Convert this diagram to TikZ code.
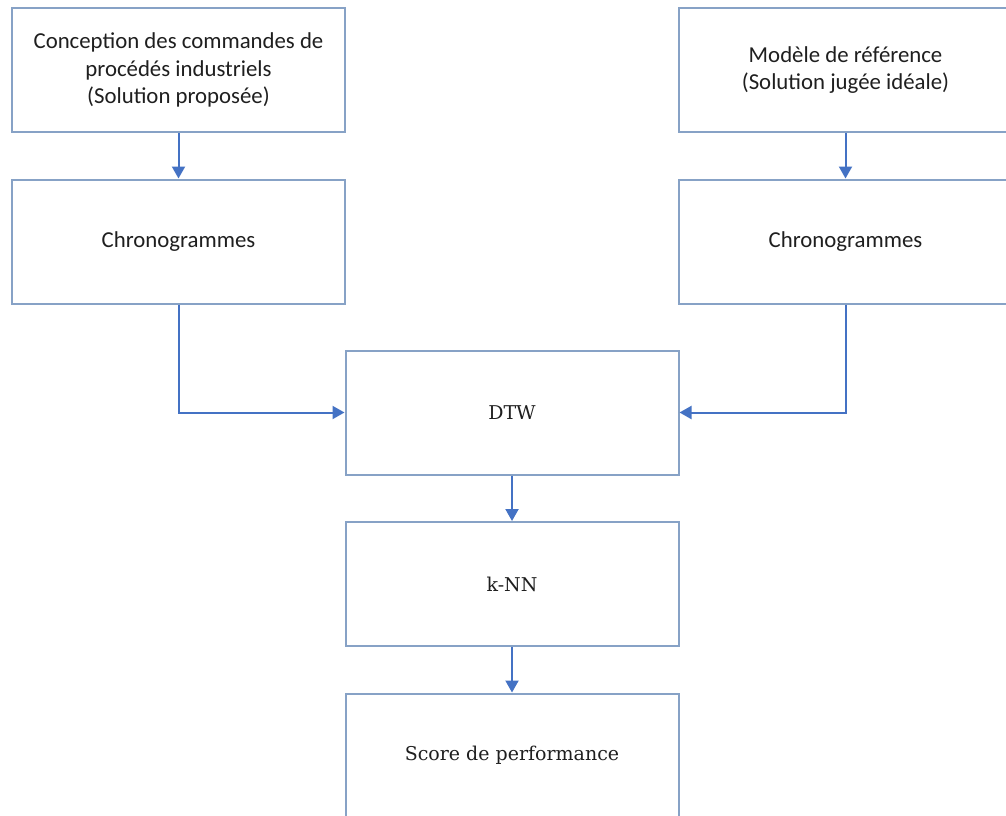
\documentclass[tikz,border=0pt]{standalone}
\usepackage{fontspec}
\setmainfont{Carlito}
\newfontfamily\boxserif{DejaVu Serif}
\usetikzlibrary{arrows.meta}
\definecolor{boxline}{HTML}{87A2C6}
\definecolor{flow}{HTML}{4472C4}
\tikzset{
  stage/.style={draw=boxline, line width=2pt, fill=white, minimum width=333pt,
    minimum height=124pt, inner sep=0pt, align=center, text=black!88,
    font=\fontsize{22.8}{27.5}\selectfont},
  serifstage/.style={stage, font=\boxserif\fontsize{19}{24}\selectfont},
  flowarrow/.style={draw=flow, line width=2pt, -{Triangle[length=12pt,width=13pt]}}
}
\begin{document}
\begin{tikzpicture}[x=1pt,y=-1pt]
  \clip (0,0) rectangle (1006,815);
  \fill[white] (0,0) rectangle (1006,815);
  % left column: proposed solution
  \node[stage] (design) at (178.5,70) {Conception des commandes de\\procédés industriels\\(Solution proposée)};
  \node[stage] (chronoL) at (178.5,241.5) {Chronogrammes};
  % right column: reference model
  \node[stage] (model) at (845.5,70) {Modèle de référence\\(Solution jugée idéale)};
  \node[stage] (chronoR) at (845.5,241.5) {Chronogrammes};
  % central chain
  \node[serifstage] (dtw) at (512,412.5) {DTW};
  \node[serifstage] (knn) at (512,584) {k-NN};
  \node[serifstage] (score) at (512,755.5) {Score de performance};
  % connectors
  \draw[flowarrow] (design.south) -- (chronoL.north);
  \draw[flowarrow] (model.south) -- (chronoR.north);
  \draw[flowarrow] (chronoL.south) |- (dtw.west);
  \draw[flowarrow] (chronoR.south) |- (dtw.east);
  \draw[flowarrow] (dtw.south) -- (knn.north);
  \draw[flowarrow] (knn.south) -- (score.north);
\end{tikzpicture}
\end{document}
